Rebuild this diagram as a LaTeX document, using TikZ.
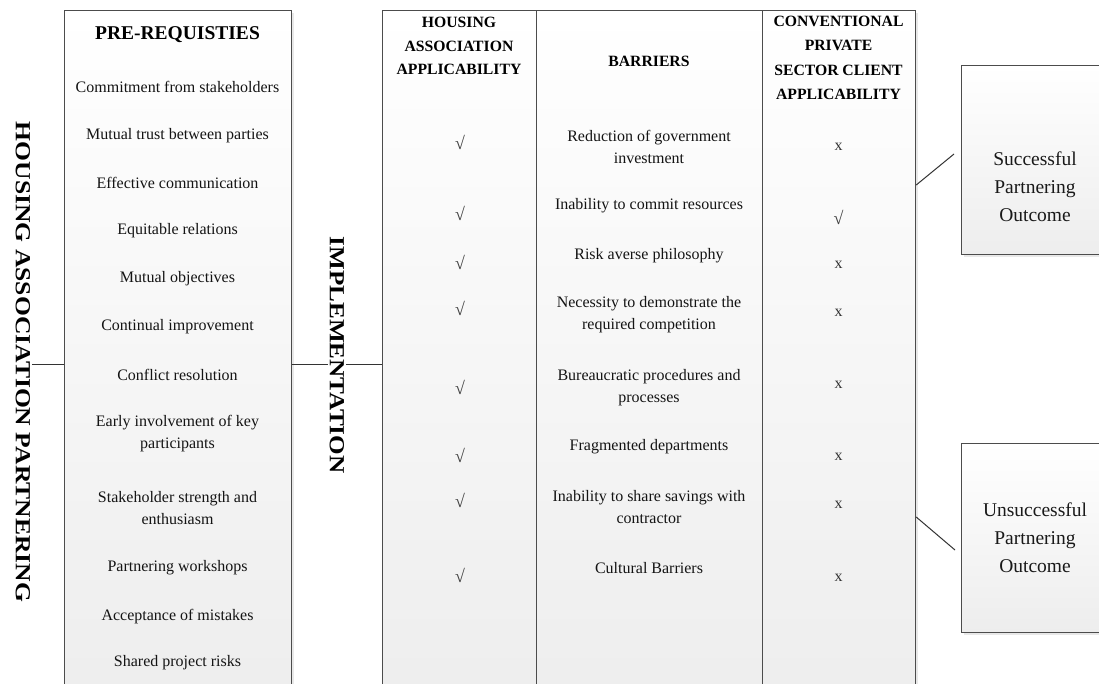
\documentclass[tikz,border=0pt]{standalone}
\usepackage{fontspec}
\setmainfont{Liberation Serif}
\usetikzlibrary{shadows}
\begin{document}
\begin{tikzpicture}[x=1pt,y=-1pt,
  txt/.style={font=\fontsize{16}{22}\selectfont, text=black!92, align=center, inner sep=0pt},
  hdr/.style={font=\fontsize{15.7}{23.5}\selectfont\bfseries, text=black, align=center, inner sep=0pt},
  outc/.style={font=\fontsize{19.5}{28}\selectfont, text=black!90, align=center, inner sep=0pt},
  boxed/.style={draw=black!70, line width=1.2pt, top color=white, bottom color=black!7, inner sep=0pt,
    drop shadow={opacity=0.18, shadow xshift=2pt, shadow yshift=-2pt}},
  sidelabel/.style={font=\fontsize{21.5}{22}\selectfont\bfseries, text=black, rotate=-90, inner sep=2pt},
  conn/.style={draw=black!80, line width=1pt},
  tick/.style={font=\fontsize{18}{18}\selectfont, text=black!75, inner sep=0pt},
  cross/.style={font=\fontsize{16}{16}\selectfont, text=black!80, inner sep=0pt}
]
\useasboundingbox (0,0) rectangle (1099,684);
\clip (0,0) rectangle (1099,684);
\fill[white] (0,0) rectangle (1099,684);

% boxes
\node[boxed, anchor=north west, minimum width=227pt, minimum height=700pt] (pre) at (64,10) {};
\node[boxed, anchor=north west, minimum width=154pt, minimum height=700pt] (c1) at (382,10) {};
\node[boxed, anchor=north west, minimum width=226pt, minimum height=700pt] (c2) at (536,10) {};
\node[boxed, anchor=north west, minimum width=153pt, minimum height=700pt] (c3) at (762,10) {};
\node[boxed, anchor=north west, minimum width=160pt, minimum height=189pt] (succ) at (961,65) {};
\node[boxed, anchor=north west, minimum width=160pt, minimum height=189pt] (unsucc) at (961,443) {};

% side labels
\node[sidelabel] (hal) at (23,362) {\scalebox{1.19}[1]{HOUSING ASSOCIATION PARTNERING}};
\node[sidelabel] (impl) at (337,355) {\scalebox{1.17}[1]{IMPLEMENTATION}};

% connectors
\coordinate (ly) at (0,364);
\draw[conn] (hal.north |- ly) -- (pre.west |- ly);
\draw[conn] (pre.east |- ly) -- (impl.south |- ly);
\draw[conn] (impl.north |- ly) -- (c1.west |- ly);
\coordinate (s1) at (954,154);
\coordinate (u1) at (955,550);
\draw[conn] (c3.east |- 0,185) -- (s1);
\draw[conn] (c3.east |- 0,517) -- (u1);

% pre-requisites
\node[hdr, font=\fontsize{19.5}{22}\selectfont\bfseries] (preh) at (177.5,35) {PRE-REQUISTIES};
\node[txt] (p1) at (177.5,87) {Commitment from stakeholders};
\node[txt] (p2) at (177.5,136) {Mutual trust between parties};
\node[txt] (p3) at (177.5,183) {Effective communication};
\node[txt] (p4) at (177.5,231) {Equitable relations};
\node[txt] (p5) at (177.5,279) {Mutual objectives};
\node[txt] (p6) at (177.5,327) {Continual improvement};
\node[txt] (p7) at (177.5,375) {Conflict resolution};
\node[txt] (p8) at (177.5,434) {Early involvement of key\\participants};
\node[txt] (p9) at (177.5,508) {Stakeholder strength and\\enthusiasm};
\node[txt] (p10) at (177.5,568) {Partnering workshops};
\node[txt] (p11) at (177.5,617) {Acceptance of mistakes};
\node[txt] (p12) at (177.5,663) {Shared project risks};

% table headers
\node[hdr] (h1) at (459,46) {HOUSING\\ASSOCIATION\\APPLICABILITY};
\node[hdr] (h2) at (649,61) {BARRIERS};
\node[hdr, font=\fontsize{15.7}{24.3}\selectfont\bfseries] (h3) at (838.5,58) {CONVENTIONAL\\PRIVATE\\SECTOR CLIENT\\APPLICABILITY};

% barriers
\node[txt] (b1) at (649,146.5) {Reduction of government\\investment};
\node[txt] (b2) at (649,206) {Inability to commit resources};
\node[txt] (b3) at (649,256) {Risk averse philosophy};
\node[txt] (b4) at (649,314.5) {Necessity to demonstrate the\\required competition};
\node[txt] (b5) at (649,387.5) {Bureaucratic procedures and\\processes};
\node[txt] (b6) at (649,447) {Fragmented departments};
\node[txt] (b7) at (649,507.5) {Inability to share savings with\\contractor};
\node[txt] (b8) at (649,568) {Cultural Barriers};

% housing association applicability
\node[tick] (a1) at (460,142) {√};
\node[tick] (a2) at (460,213) {√};
\node[tick] (a3) at (460,262) {√};
\node[tick] (a4) at (460,308) {√};
\node[tick] (a5) at (460,387) {√};
\node[tick] (a6) at (460,455) {√};
\node[tick] (a7) at (460,500) {√};
\node[tick] (a8) at (460,575) {√};

% private sector applicability
\node[cross] (x1) at (838.5,147) {x};
\node[tick] (x2) at (838.5,217) {√};
\node[cross] (x3) at (838.5,265) {x};
\node[cross] (x4) at (838.5,313) {x};
\node[cross] (x5) at (838.5,385) {x};
\node[cross] (x6) at (838.5,457) {x};
\node[cross] (x7) at (838.5,505) {x};
\node[cross] (x8) at (838.5,578) {x};

% outcomes
\node[outc] (st) at (1035,187) {Successful\\Partnering\\Outcome};
\node[outc] (ut) at (1035,538) {Unsuccessful\\Partnering\\Outcome};
\end{tikzpicture}
\end{document}
